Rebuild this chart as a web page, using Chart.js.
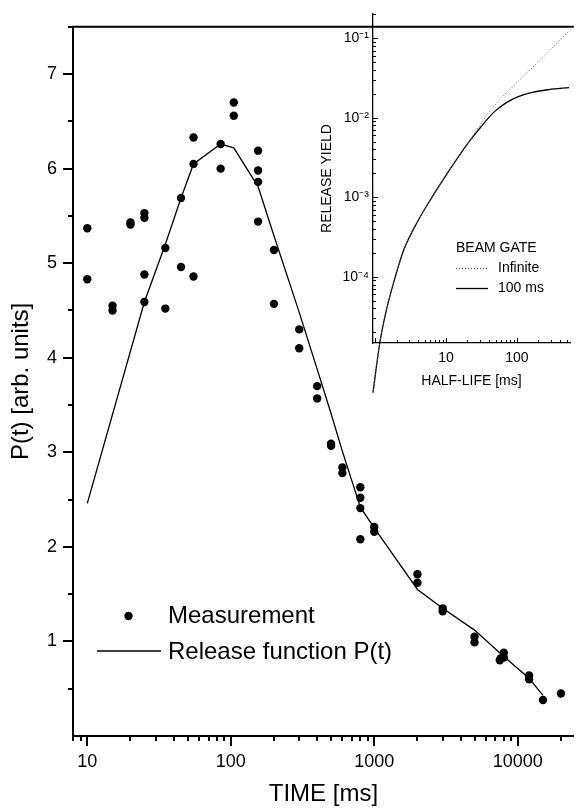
<!DOCTYPE html>
<html>
<head>
<meta charset="utf-8">
<script src="https://cdn.jsdelivr.net/npm/chart.js@4.4.0/dist/chart.umd.min.js"></script>
<style>
  body { margin: 0; background: #fff; }
  #wrap { position: relative; width: 578px; height: 812px; }
  #main { position: absolute; left: 0; top: 0; }
  #inset { position: absolute; left: 280px; top: 0; }
</style>
</head>
<body>
<div id="wrap">
  <canvas id="main" width="578" height="812"></canvas>
  <canvas id="inset" width="298" height="400"></canvas>
</div>
<script>
// main plot: measured release and fitted release function
const measTime  = [10, 10, 15, 15, 20, 20, 25, 25, 25, 25, 35, 35, 45, 45, 55, 55, 55,
                   85, 85, 105, 105, 155, 155, 155, 155, 200, 200, 300, 300, 400, 400,
                   500, 500, 600, 600, 800, 800, 800, 800, 1000, 1000, 2000, 2000,
                   3000, 3000, 5000, 5000, 7500, 7600, 8000, 8000, 12000, 12000, 15000, 20000];
const measValue = [5.37, 4.83, 4.55, 4.50, 5.43, 5.41, 5.53, 5.48, 4.88, 4.59, 5.16, 4.52, 5.69, 4.96, 6.33, 6.05, 4.86,
                   6.26, 6.00, 6.70, 6.56, 6.19, 5.98, 5.86, 5.44, 5.14, 4.57, 4.30, 4.10, 3.70, 3.57,
                   3.09, 3.07, 2.84, 2.78, 2.63, 2.52, 2.41, 2.08, 2.21, 2.16, 1.71, 1.62,
                   1.35, 1.32, 1.05, 0.99, 0.80, 0.82, 0.88, 0.83, 0.64, 0.60, 0.38, 0.45];
const fitTime  = [10, 25, 35, 45, 55, 85, 105, 155, 200, 300, 400, 500, 600, 800, 1000, 2000, 3000, 5000, 8000, 12000, 15000];
const fitValue = [2.46, 4.59, 5.2, 5.69, 6.05, 6.26, 6.22, 5.81, 5.29, 4.48, 3.88, 3.41, 3.01, 2.42, 2.2, 1.55, 1.35, 1.12, 0.84, 0.61, 0.43];
const timeTicks = [10, 100, 1000, 10000];
const pTicks = [1, 2, 3, 4, 5, 6, 7];

// inset: release yield vs half-life
const halfLifeInf = [0.93, 1.16, 1.41, 1.78, 2.51, 3.98, 6.31, 10, 20, 28.2, 38, 63, 126, 240, 543];
const yieldInf    = [3.5e-6, 1.48e-5, 3.55e-5, 7.9e-5, 2.14e-4, 5.0e-4, 1.0e-3, 1.9e-3, 4.7e-3, 7.4e-3, 1.1e-2, 1.85e-2, 3.4e-2, 5.9e-2, 0.1245];
const halfLife100 = [0.93, 1.16, 1.41, 1.78, 2.51, 3.98, 6.31, 10, 20, 28.2, 38, 50, 70.8, 100, 158, 282, 543];
const yield100    = [3.5e-6, 1.48e-5, 3.55e-5, 7.9e-5, 2.14e-4, 5.0e-4, 1.0e-3, 1.9e-3, 4.7e-3, 6.92e-3, 9.55e-3, 1.23e-2, 1.55e-2, 1.82e-2, 2.07e-2, 2.26e-2, 2.40e-2];
const halfLifeTicks = [10, 100];
const yieldTicks  = [1e-4, 1e-3, 1e-2, 1e-1];
const yieldLabels = ['10⁻⁴', '10⁻³', '10⁻²', '10⁻¹'];

Chart.defaults.font.family = "'Liberation Sans', Arial, sans-serif";
Chart.defaults.color = '#000';

function toPoints(xs, ys) {
  return xs.map((x, i) => ({x: x, y: ys[i]}));
}

function logMarks(min, max) {
  const out = [];
  for (let e = Math.floor(Math.log10(min)); e <= Math.ceil(Math.log10(max)); e++) {
    for (let m = 1; m < 10; m++) {
      const v = m * Math.pow(10, e);
      if (v >= min && v <= max) out.push({v: v, major: m === 1});
    }
  }
  return out;
}

const mainFrame = {
  id: 'mainFrame',
  afterDraw(chart) {
    const {ctx, chartArea: a, scales: {x, y}} = chart;
    ctx.save();
    ctx.strokeStyle = '#000';
    ctx.lineWidth = 2;
    ctx.beginPath();
    ctx.moveTo(a.left - 1, a.top);
    ctx.lineTo(a.right, a.top);
    // x ticks, outside
    logMarks(x.min, x.max).forEach(t => {
      const px = Math.round(x.getPixelForValue(t.v));
      ctx.moveTo(px, a.bottom);
      ctx.lineTo(px, a.bottom + (t.major ? 10 : 5));
    });
    // y ticks, outside
    for (let v = 0.5; v <= y.max; v += 0.5) {
      const py = Math.round(y.getPixelForValue(v));
      ctx.moveTo(a.left, py);
      ctx.lineTo(a.left - (v % 1 === 0 ? 10 : 5), py);
    }
    ctx.stroke();

    // legend
    ctx.fillStyle = '#000';
    ctx.beginPath();
    ctx.arc(128.5, 616, 4.2, 0, Math.PI * 2);
    ctx.fill();
    ctx.lineWidth = 1.3;
    ctx.beginPath();
    ctx.moveTo(97, 651);
    ctx.lineTo(161, 651);
    ctx.stroke();
    ctx.font = "24px 'Liberation Sans', Arial, sans-serif";
    ctx.textBaseline = 'middle';
    ctx.fillText('Measurement', 168, 616);
    ctx.fillText('Release function P(t)', 168, 652);
    ctx.restore();
  }
};

new Chart(document.getElementById('main'), {
  type: 'scatter',
  data: {
    datasets: [{
      label: 'Measurement',
      data: toPoints(measTime, measValue),
      pointRadius: 4.2,
      pointBackgroundColor: '#000',
      pointBorderWidth: 0,
      showLine: false
    }, {
      label: 'Release function P(t)',
      data: toPoints(fitTime, fitValue),
      showLine: true,
      borderColor: '#000',
      borderWidth: 1.3,
      pointRadius: 0,
      tension: 0
    }]
  },
  options: {
    responsive: false,
    animation: false,
    devicePixelRatio: 1,
    layout: {padding: {top: 5, right: 0, left: 0, bottom: 0}},
    plugins: {legend: {display: false}, tooltip: {enabled: false}},
    scales: {
      x: {
        type: 'logarithmic',
        min: 7.95,
        max: 24600,
        afterFit: s => { s.height = 76; },
        afterBuildTicks: s => { s.ticks = timeTicks.map(v => ({value: v})); },
        grid: {display: false, drawTicks: false},
        border: {display: true, color: '#000', width: 2},
        ticks: {
          autoSkip: false, maxRotation: 0, padding: 15,
          font: {size: 18},
          callback: v => String(v)
        },
        title: {display: true, text: 'TIME [ms]', font: {size: 24}, padding: {top: 0, bottom: 3}}
      },
      y: {
        min: 0,
        max: 7.5,
        afterFit: s => { s.width = 73; },
        afterBuildTicks: s => { s.ticks = pTicks.map(v => ({value: v})); },
        grid: {display: false, drawTicks: false},
        border: {display: true, color: '#000', width: 2},
        ticks: {
          autoSkip: false, padding: 16,
          font: {size: 18},
          callback: v => String(v)
        },
        title: {display: true, text: 'P(t) [arb. units]', font: {size: 24}, padding: {top: 7, bottom: 0}}
      }
    }
  },
  plugins: [mainFrame]
});

const insetFrame = {
  id: 'insetFrame',
  afterDraw(chart) {
    const {ctx, chartArea: a, scales: {x, y}} = chart;
    ctx.save();
    ctx.strokeStyle = '#000';
    ctx.lineWidth = 1;
    ctx.beginPath();
    logMarks(x.min, x.max).forEach(t => {
      const px = Math.round(x.getPixelForValue(t.v)) + 0.5;
      ctx.moveTo(px, a.bottom);
      ctx.lineTo(px, a.bottom - (t.major ? 5 : 3));
    });
    logMarks(y.min, y.max).forEach(t => {
      const py = Math.round(y.getPixelForValue(t.v)) + 0.5;
      ctx.moveTo(a.left, py);
      ctx.lineTo(a.left + (t.major ? 5 : 3), py);
    });
    ctx.stroke();

    // legend
    ctx.fillStyle = '#000';
    ctx.font = "14px 'Liberation Sans', Arial, sans-serif";
    ctx.textBaseline = 'middle';
    ctx.fillText('BEAM GATE', 176, 248);
    ctx.fillText('Infinite', 218, 268);
    ctx.fillText('100 ms', 218, 288);
    ctx.strokeStyle = '#555';
    ctx.setLineDash([1, 2]);
    ctx.beginPath();
    ctx.moveTo(176, 268.5);
    ctx.lineTo(208, 268.5);
    ctx.stroke();
    ctx.setLineDash([]);
    ctx.strokeStyle = '#000';
    ctx.lineWidth = 1.3;
    ctx.beginPath();
    ctx.moveTo(176, 288.5);
    ctx.lineTo(208, 288.5);
    ctx.stroke();
    ctx.restore();
  }
};

new Chart(document.getElementById('inset'), {
  type: 'scatter',
  data: {
    datasets: [{
      label: 'Infinite',
      data: toPoints(halfLifeInf, yieldInf),
      showLine: true,
      borderColor: '#666',
      borderWidth: 1,
      borderDash: [1, 2],
      pointRadius: 0,
      cubicInterpolationMode: 'monotone',
      clip: false
    }, {
      label: '100 ms',
      data: toPoints(halfLife100, yield100),
      showLine: true,
      borderColor: '#000',
      borderWidth: 1.3,
      pointRadius: 0,
      cubicInterpolationMode: 'monotone',
      clip: false
    }]
  },
  options: {
    responsive: false,
    animation: false,
    devicePixelRatio: 1,
    layout: {padding: {top: 14, right: 8, left: 0, bottom: 0}},
    plugins: {legend: {display: false}, tooltip: {enabled: false}},
    scales: {
      x: {
        type: 'logarithmic',
        min: 0.93,
        max: 560,
        afterFit: s => { s.height = 57; },
        afterBuildTicks: s => { s.ticks = halfLifeTicks.map(v => ({value: v})); },
        grid: {display: false, drawTicks: false},
        border: {display: true, color: '#000', width: 1.3},
        ticks: {autoSkip: false, maxRotation: 0, padding: 7, font: {size: 14}, callback: v => String(v)},
        title: {display: true, text: 'HALF-LIFE [ms]', font: {size: 14}, padding: {top: 0, bottom: 10}}
      },
      y: {
        type: 'logarithmic',
        min: 1.47e-5,
        max: 0.202,
        afterFit: s => { s.width = 93; },
        afterBuildTicks: s => { s.ticks = yieldTicks.map(v => ({value: v})); },
        grid: {display: false, drawTicks: false},
        border: {display: true, color: '#000', width: 1.3},
        ticks: {
          autoSkip: false, padding: 4, font: {size: 14},
          callback: v => yieldLabels[yieldTicks.findIndex(t => Math.abs(Math.log10(t) - Math.log10(v)) < 1e-6)]
        },
        title: {display: true, text: 'RELEASE YIELD', font: {size: 14}, padding: {top: 39, bottom: 0}}
      }
    }
  },
  plugins: [insetFrame]
});
</script>
</body>
</html>
